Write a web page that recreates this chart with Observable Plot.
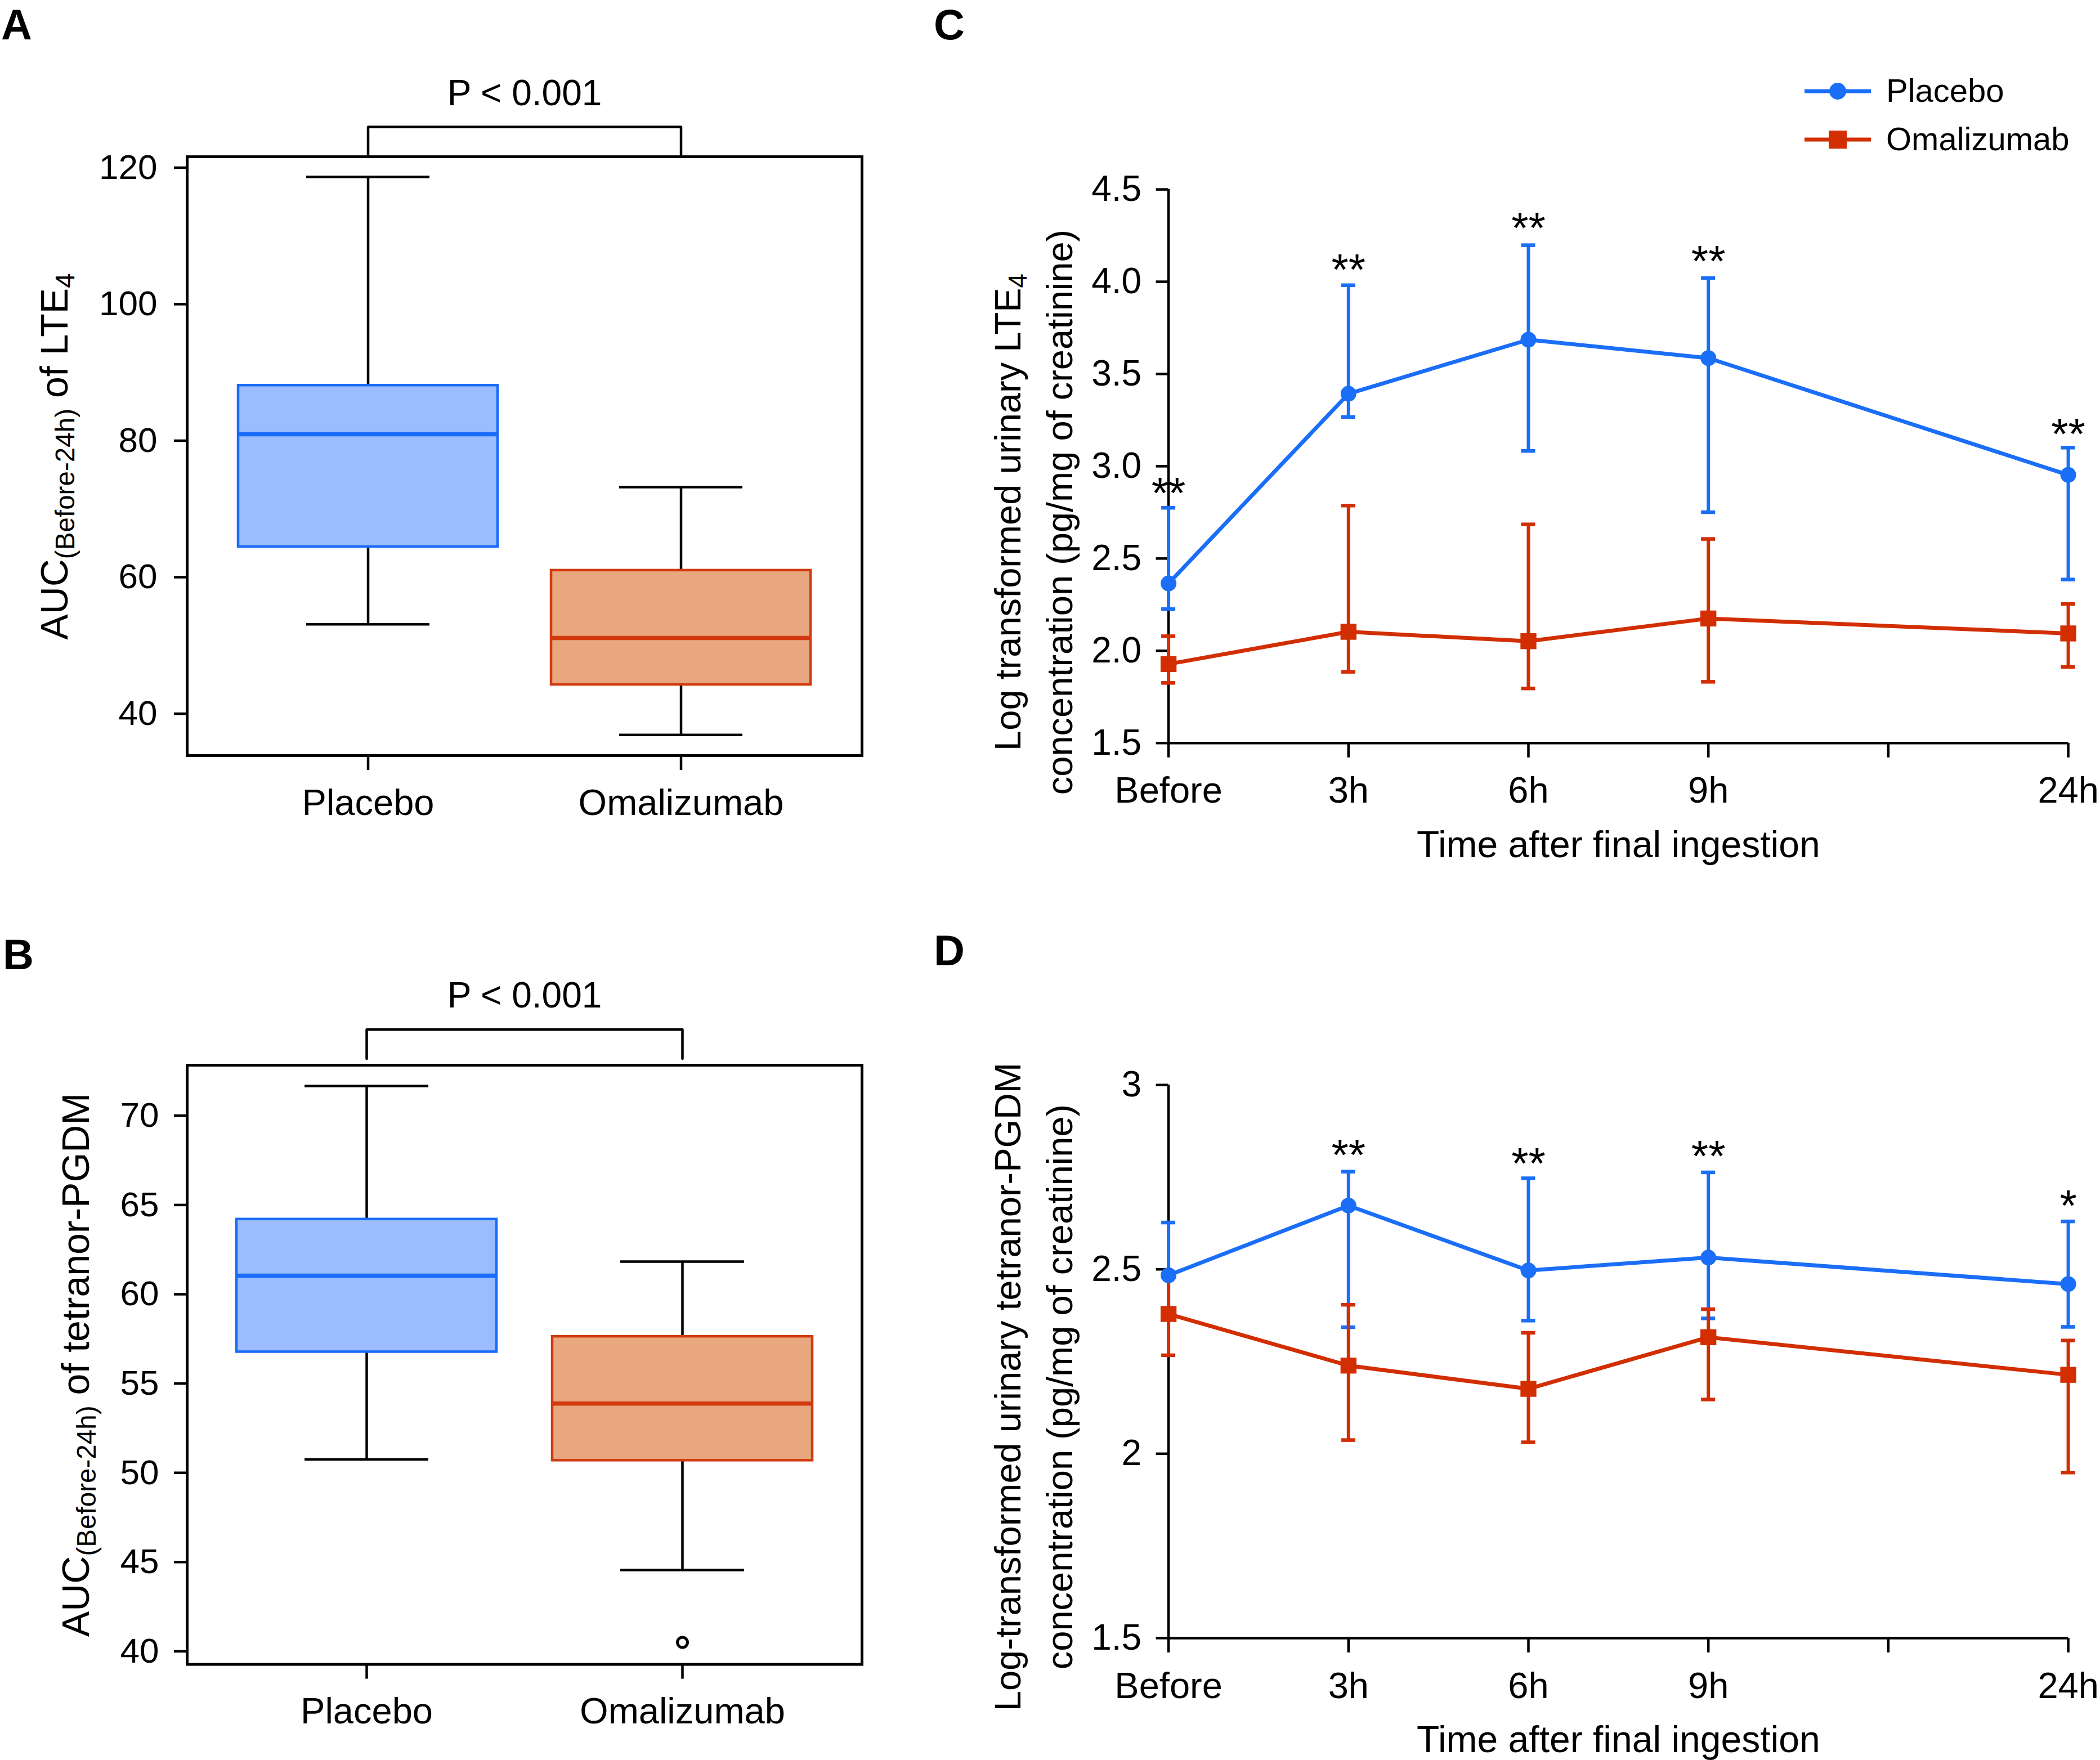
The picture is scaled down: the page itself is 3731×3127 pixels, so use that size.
<!DOCTYPE html>
<html><head><meta charset="utf-8">
<script src="https://cdn.jsdelivr.net/npm/d3@7"></script>
<script src="https://cdn.jsdelivr.net/npm/@observablehq/plot@0.6"></script>
<style>
body{margin:0;background:#fff;}
#root{position:relative;width:3731px;height:3127px;background:#fff;font-family:"Liberation Sans",Arial,Helvetica,sans-serif;color:#000;overflow:hidden;}
.letter{position:absolute;font-weight:bold;font-size:76px;line-height:1;}
.ylab{position:absolute;transform:translate(-50%,-50%) rotate(-90deg);white-space:nowrap;text-align:center;}
.ylab sub{font-size:0.7em;vertical-align:-0.25em;line-height:0;}
.leg{position:absolute;font-size:58px;line-height:1;white-space:nowrap;}
</style></head><body><div id="root"></div>
<script>
const FONT = '"Liberation Sans", Arial, Helvetica, sans-serif';

// ---------- data ----------
const groups = ["Placebo", "Omalizumab"];
const pLabel = "P < 0.001";

// Panel A: AUC of LTE4 (box plot)
const lte4AucMin = [53.1, 36.9];
const lte4AucQ1 = [64.45, 44.25];
const lte4AucMedian = [80.95, 51.1];
const lte4AucQ3 = [88.1, 61.0];
const lte4AucMax = [118.65, 73.2];
const lte4AucTicks = [40, 60, 80, 100, 120];

// Panel B: AUC of tetranor-PGDM (box plot)
const pgdmAucMin = [50.75, 44.55];
const pgdmAucQ1 = [56.77, 50.69];
const pgdmAucMedian = [61.04, 53.88];
const pgdmAucQ3 = [64.2, 57.63];
const pgdmAucMax = [71.66, 61.83];
const pgdmAucOutlierGroup = ["Omalizumab"];
const pgdmAucOutlierValue = [40.5];
const pgdmAucTicks = [40, 45, 50, 55, 60, 65, 70];

// Panels C/D: time course
const timeLabels = ["Before", "3h", "6h", "9h", "24h"];
const timeIndex = [0, 1, 2, 3, 5];
const timeTicks = [0, 1, 2, 3, 4, 5];

const lte4PlaceboMean = [2.365, 3.393, 3.686, 3.586, 2.953];
const lte4PlaceboLo   = [2.226, 3.267, 3.083, 2.751, 2.386];
const lte4PlaceboHi   = [2.775, 3.981, 4.198, 4.020, 3.101];
const lte4OmaMean = [1.928, 2.103, 2.052, 2.175, 2.094];
const lte4OmaLo   = [1.826, 1.886, 1.796, 1.832, 1.913];
const lte4OmaHi   = [2.079, 2.787, 2.685, 2.606, 2.254];
const lte4Stars = ["**", "**", "**", "**", "**"];
const lte4StarY = [2.942, 4.152, 4.378, 4.198, 3.262];
const lte4Ticks = [1.5, 2.0, 2.5, 3.0, 3.5, 4.0, 4.5];

const pgdmPlaceboMean = [2.484, 2.673, 2.497, 2.532, 2.460];
const pgdmPlaceboLo   = [2.393, 2.343, 2.361, 2.367, 2.344];
const pgdmPlaceboHi   = [2.627, 2.765, 2.747, 2.763, 2.630];
const pgdmOmaMean = [2.379, 2.239, 2.176, 2.316, 2.214];
const pgdmOmaLo   = [2.267, 2.037, 2.031, 2.147, 1.949];
const pgdmOmaHi   = [2.480, 2.404, 2.328, 2.392, 2.307];
const pgdmStars = ["", "**", "**", "**", "*"];
const pgdmStarY = [null, 2.853, 2.831, 2.850, 2.716];
const pgdmTicks = [1.5, 2, 2.5, 3];

// ---------- styles ----------
const boxFill = ["#9bbcfd", "#e8a77f"];
const boxStroke = ["#1a6bf8", "#d23b10"];
const blue = "#1a6ef7";
const red = "#d22e02";

const root = document.getElementById("root");
function place(node, left, top) {
  node.style.position = "absolute";
  node.style.left = left + "px";
  node.style.top = top + "px";
  root.appendChild(node);
  return node;
}
function html(s) { const d = document.createElement("div"); d.innerHTML = s; return d.firstElementChild; }

function boxPanel(cfg) {
  const rows = groups.map((g, i) => ({group: g, min: cfg.min[i], q1: cfg.q1[i], median: cfg.median[i],
    q3: cfg.q3[i], max: cfg.max[i], fill: boxFill[i], stroke: boxStroke[i]}));
  const outliers = (cfg.outGroup || []).map((g, i) => ({group: g, value: cfg.outValue[i]}));
  const bracket = [
    {group: groups[0], y: cfg.bracketFoot}, {group: groups[0], y: cfg.bracketY},
    {group: groups[1], y: cfg.bracketY}, {group: groups[1], y: cfg.bracketFoot}];
  return Plot.plot({
    width: cfg.width, height: cfg.height,
    marginLeft: cfg.m[0], marginTop: cfg.m[1], marginRight: cfg.m[2], marginBottom: cfg.m[3],
    style: {fontFamily: FONT, fontSize: "62px", background: "transparent", overflow: "visible", color: "#000"},
    x: {type: "band", domain: groups, paddingInner: cfg.pi, paddingOuter: cfg.po, label: null},
    y: {domain: cfg.yDomain, label: null},
    marks: [
      Plot.ruleX(rows, {x: "group", y1: "q3", y2: "max", stroke: "#000", strokeWidth: 4.5}),
      Plot.ruleX(rows, {x: "group", y1: "min", y2: "q1", stroke: "#000", strokeWidth: 4.5}),
      Plot.tickY(rows, {x: "group", y: "max", insetLeft: 121, insetRight: 121, stroke: "#000", strokeWidth: 4.5}),
      Plot.tickY(rows, {x: "group", y: "min", insetLeft: 121, insetRight: 121, stroke: "#000", strokeWidth: 4.5}),
      Plot.barY(rows, {x: "group", y1: "q1", y2: "q3", fill: "fill", stroke: "stroke", strokeWidth: 4.5}),
      Plot.tickY(rows, {x: "group", y: "median", stroke: "stroke", strokeWidth: 7.5}),
      Plot.dot(outliers, {x: "group", y: "value", r: 9, stroke: "#000", strokeWidth: 5, fill: "#fff"}),
      Plot.frame({stroke: "#000", strokeWidth: 5}),
      Plot.axisY({ticks: cfg.ticks, tickSize: 23, tickPadding: cfg.tickPad, fontSize: 62, strokeWidth: 4.5, label: null}),
      Plot.axisX({tickSize: 26, tickPadding: 33, fontSize: 65, strokeWidth: 4.5, label: null}),
      Plot.line(bracket, {x: "group", y: "y", stroke: "#000", strokeWidth: 4.5}),
      Plot.text([pLabel], {y: cfg.pY, lineAnchor: "bottom", fontSize: 64})
    ]
  });
}

function series(t, mean, lo, hi) { return t.map((x, i) => ({t: x, mean: mean[i], lo: lo[i], hi: hi[i]})); }

function linePanel(cfg) {
  const plac = series(timeIndex, cfg.pm, cfg.pl, cfg.ph);
  const oma = series(timeIndex, cfg.om, cfg.ol, cfg.oh);
  const stars = timeIndex.map((t, i) => ({t, y: cfg.starY[i], s: cfg.stars[i]})).filter(d => d.s);
  const bars = (data, color) => [
    Plot.ruleX(data, {x: "t", y1: "lo", y2: "hi", stroke: color, strokeWidth: 6}),
    Plot.ruleY(data, {y: "hi", x1: "t", x2: "t", insetLeft: -12.5, insetRight: -12.5, stroke: color, strokeWidth: 6.5}),
    Plot.ruleY(data, {y: "lo", x1: "t", x2: "t", insetLeft: -12.5, insetRight: -12.5, stroke: color, strokeWidth: 6.5})
  ];
  return Plot.plot({
    width: cfg.width, height: cfg.height,
    marginLeft: cfg.m[0], marginTop: cfg.m[1], marginRight: cfg.m[2], marginBottom: cfg.m[3],
    style: {fontFamily: FONT, fontSize: "64px", background: "transparent", overflow: "visible", color: "#000"},
    x: {domain: [timeTicks[0], timeTicks[timeTicks.length - 1]], label: null},
    y: {domain: cfg.yDomain, label: null},
    marks: [
      Plot.ruleX([timeTicks[0]], {y1: cfg.yDomain[0], y2: cfg.yDomain[1], stroke: "#000", strokeWidth: 4.5}),
      Plot.ruleY([cfg.yDomain[0]], {x1: timeTicks[0], x2: timeTicks[timeTicks.length - 1], stroke: "#000", strokeWidth: 4.5}),
      Plot.axisY({ticks: cfg.ticks, tickFormat: cfg.yFormat, tickSize: 22, tickPadding: 26, fontSize: 64, strokeWidth: 4.5, label: null}),
      Plot.axisX({ticks: timeTicks, tickFormat: d => { const i = timeIndex.indexOf(d); return i < 0 ? "" : timeLabels[i]; },
        tickSize: 26, tickPadding: 34, fontSize: 65, strokeWidth: 4.5, label: null}),
      ...bars(plac, blue),
      ...bars(oma, red),
      Plot.line(oma, {x: "t", y: "mean", stroke: red, strokeWidth: 7}),
      Plot.dot(oma, {x: "t", y: "mean", symbol: "square", r: 16, fill: red}),
      Plot.line(plac, {x: "t", y: "mean", stroke: blue, strokeWidth: 7}),
      Plot.dot(plac, {x: "t", y: "mean", r: 14, fill: blue}),
      Plot.text(stars, {x: "t", y: "y", text: "s", lineAnchor: "top", fontSize: 78}),
      Plot.text(["Time after final ingestion"], {frameAnchor: "bottom", lineAnchor: "top", dy: 156, fontSize: 66})
    ]
  });
}

// ---------- panels ----------
place(boxPanel({
  width: 1600, height: 1560, m: [332, 278, 69, 218],
  min: lte4AucMin, q1: lte4AucQ1, median: lte4AucMedian, q3: lte4AucQ3, max: lte4AucMax,
  yDomain: [33.86, 121.6], ticks: lte4AucTicks, tickPad: 30,
  pi: 0.17, po: 0.163, bracketY: 125.98, bracketFoot: 121.6, pY: 129.15
}), 0, 0);

place(boxPanel({
  width: 1600, height: 1527, m: [332, 292, 69, 170.4],
  min: pgdmAucMin, q1: pgdmAucQ1, median: pgdmAucMedian, q3: pgdmAucQ3, max: pgdmAucMax,
  outGroup: pgdmAucOutlierGroup, outValue: pgdmAucOutlierValue,
  yDomain: [39.27, 72.83], ticks: pgdmAucTicks, tickPad: 27,
  pi: 0.176, po: 0.155, bracketY: 74.82, bracketFoot: 73.19, pY: 76.05
}), 0, 1600);

place(linePanel({
  width: 2031, height: 1560, m: [375.6, 336.1, 56.9, 240.3],
  pm: lte4PlaceboMean, pl: lte4PlaceboLo, ph: lte4PlaceboHi,
  om: lte4OmaMean, ol: lte4OmaLo, oh: lte4OmaHi,
  stars: lte4Stars, starY: lte4StarY,
  yDomain: [1.5, 4.5], ticks: lte4Ticks, yFormat: d3.format(".1f")
}), 1700, 0);

place(linePanel({
  width: 2031, height: 1527, m: [375.6, 327.2, 56.9, 217.1],
  pm: pgdmPlaceboMean, pl: pgdmPlaceboLo, ph: pgdmPlaceboHi,
  om: pgdmOmaMean, ol: pgdmOmaLo, oh: pgdmOmaHi,
  stars: pgdmStars, starY: pgdmStarY,
  yDomain: [1.5, 3], ticks: pgdmTicks, yFormat: d => String(d)
}), 1700, 1600);

// ---------- panel letters ----------
[["A", 2, 6], ["B", 5, 1658], ["C", 1659, 6], ["D", 1659, 1651]].forEach(([t, x, y]) => {
  const d = document.createElement("div"); d.className = "letter"; d.textContent = t; place(d, x, y);
});

// ---------- y-axis titles ----------
function ylab(inner, cx, cy, fs, lh) {
  const d = document.createElement("div");
  d.className = "ylab"; d.innerHTML = inner;
  d.style.fontSize = fs + "px"; d.style.lineHeight = lh + "px";
  place(d, cx, cy);
}
ylab("AUC<sub>(Before-24h)</sub> of LTE<sub>4</sub>", 96, 811, 68, 82);
ylab("AUC<sub>(Before-24h)</sub> of tetranor-PGDM", 134, 2425, 68, 82);
ylab("Log transformed urinary LTE<sub>4</sub><br>concentration (pg/mg of creatinine)", 1836.5, 910, 65, 92);
ylab("Log-transformed urinary tetranor-PGDM<br>concentration (pg/mg of creatinine)", 1836.5, 2464, 65, 92);

// ---------- legend (panel C) ----------
const legendNames = ["Placebo", "Omalizumab"];
const legendColors = [blue, red];
const legendSymbols = ["circle", "square"];
const legendRowY = [162, 248];
legendNames.forEach((name, i) => {
  const c = legendColors[i];
  const sym = legendSymbols[i] === "circle"
    ? `<circle cx="59" cy="20" r="15" fill="${c}"/>`
    : `<rect x="43" y="4" width="32" height="32" fill="${c}"/>`;
  const svg = html(`<svg width="118" height="40" xmlns="http://www.w3.org/2000/svg"><line x1="0" x2="118" y1="20" y2="20" stroke="${c}" stroke-width="7"/>${sym}</svg>`);
  place(svg, 3206, legendRowY[i] - 20);
  const t = document.createElement("div"); t.className = "leg"; t.textContent = name;
  place(t, 3351, legendRowY[i] - 30);
});
</script></body></html>
